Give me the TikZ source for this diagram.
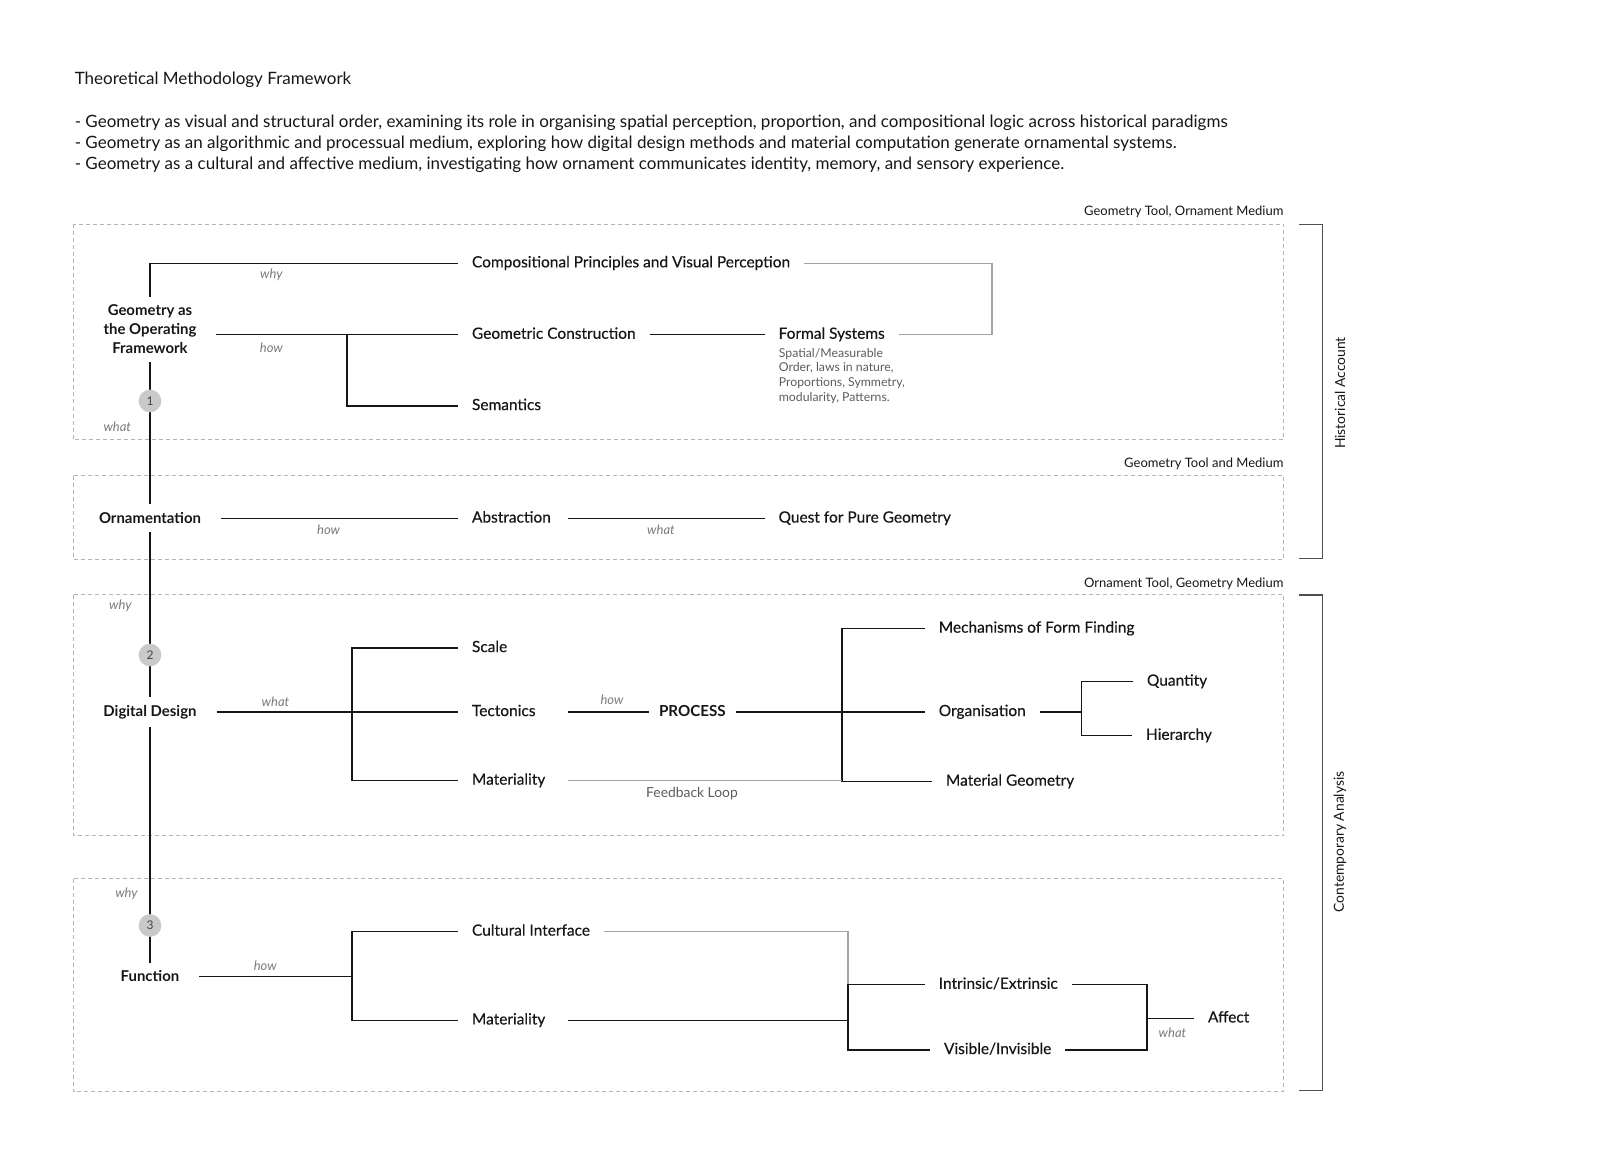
\documentclass[tikz,border=0pt]{standalone}
\usepackage{fontspec}
\setmainfont{Lato}
\newfontfamily\labelfont[FakeBold=0.35]{Lato}
\definecolor{ink}{HTML}{161616}
\definecolor{muted}{HTML}{7A7A7A}
\definecolor{note}{HTML}{5C5C5C}
\definecolor{loop}{HTML}{A3A3A3}
\definecolor{frame}{HTML}{B4B4B4}
\definecolor{brace}{HTML}{505050}
\definecolor{disc}{HTML}{C9C9C9}
\tikzset{
  stem/.style={inner sep=0pt,outer xsep=15pt,outer ysep=6pt,align=center,text=ink,font=\fontsize{11.2}{14.25}\selectfont\bfseries},
  item/.style={anchor=west,inner sep=0pt,outer xsep=10.5pt,text height=1.55ex,text depth=.35ex,text=ink,font=\fontsize{11.6}{13}\selectfont\labelfont},
  shortitem/.style={item,text width=61.5pt,align=left},
  keyitem/.style={item,outer xsep=7.5pt,font=\fontsize{11.4}{13}\selectfont\bfseries},
  cue/.style={inner sep=0pt,text=muted,font=\fontsize{9.75}{12}\selectfont\itshape},
  link/.style={line width=1pt,draw=ink},
  softlink/.style={line width=0.9pt,draw=loop},
  zone/.style={draw=frame,line width=0.75pt,dash pattern=on 3pt off 2.25pt},
  bracket/.style={draw=brace,line width=1pt},
  disc/.style={circle,fill=disc,inner sep=0pt,minimum size=17pt,text=ink!80,font=\fontsize{9}{10}\selectfont},
  zonetag/.style={anchor=east,inner sep=0pt,text=ink,font=\fontsize{9.75}{11}\selectfont},
  sidetag/.style={rotate=90,inner sep=0pt,text=ink,font=\fontsize{10.4}{12}\selectfont},
  bodytext/.style={anchor=west,inner sep=0pt,text=ink,font=\fontsize{12.75}{15}\selectfont}
}
\begin{document}
\begin{tikzpicture}[x=0.75pt,y=-0.75pt]
  \useasboundingbox (0,0) rectangle (1600,1166);
  \def\L{73.5}
  \def\R{1283.7}

  % heading
  \node[bodytext] (title) at (74.5,80) {Theoretical Methodology Framework};
  \node[bodytext] (aim1) at (74.5,122.6) {- Geometry as visual and structural order, examining its role in organising spatial perception, proportion, and compositional logic across historical paradigms};
  \node[bodytext] (aim2) at (74.5,144) {- Geometry as an algorithmic and processual medium, exploring how digital design methods and material computation generate ornamental systems.};
  \node[bodytext] (aim3) at (74.5,164.6) {- Geometry as a cultural and affective medium, investigating how ornament communicates identity, memory, and sensory experience.};

  % zones
  \draw[zone] (\L,224.5) rectangle (\R,439.8);
  \draw[zone] (\L,475.5) rectangle (\R,559.2);
  \draw[zone] (\L,594.9) rectangle (\R,835.7);
  \draw[zone] (\L,878.6) rectangle (\R,1091.8);
  \node[zonetag] (tag1) at (\R,212.2) {Geometry Tool, Ornament Medium};
  \node[zonetag] (tag2) at (\R,464.3) {Geometry Tool and Medium};
  \node[zonetag] (tag3) at (\R,583.7) {Ornament Tool, Geometry Medium};

  % side brackets
  \draw[bracket] (1299,224.5) -- (1322.5,224.5) -- (1322.5,558.2) -- (1299,558.2);
  \draw[bracket] (1299,595) -- (1322.5,595) -- (1322.5,1090.8) -- (1299,1090.8);
  \node[sidetag] (hist) at (1340,393) {Historical Account};
  \node[sidetag] (cont) at (1340,842) {Contemporary Analysis};

  % stems
  \node[stem] (geo) at (150,329.6) {Geometry as\\the Operating\\Framework};
  \node[stem] (orn) at (150,518) {Ornamentation};
  \node[stem] (dd) at (150,712) {Digital Design};
  \node[stem] (fun) at (150,976.5) {Function};

  % historical account
  \node[item] (comp) at (458,263.3) {Compositional Principles and Visual Perception};
  \node[item] (gc) at (458,334.7) {Geometric Construction};
  \node[item] (sem) at (458,406) {Semantics};
  \node[item] (fs) at (764.6,334.7) {Formal Systems};
  \node[anchor=north west,inner sep=0pt,align=left,text=note,font=\fontsize{9.2}{11}\selectfont] (fsnote) at (778.6,348) {Spatial/Measurable\\Order, laws in nature,\\Proportions, Symmetry,\\modularity, Patterns.};
  \node[shortitem] (abs) at (458,518.5) {Abstraction};
  \node[item] (quest) at (764.6,518.5) {Quest for Pure Geometry};

  \coordinate (kGeo) at (347,334.7);
  \coordinate (kLoop) at (992,263.3);
  \draw[link] (geo.north) |- (comp.west);
  \draw[link] (geo.east |- gc.west) -- (gc.west);
  \draw[link] (kGeo) |- (sem.west);
  \draw[link] (gc.east) -- (fs.west);
  \draw[softlink] (fs.east) -| (kLoop) -- (comp.east);
  \draw[link] (orn.east |- abs.west) -- (abs.west);
  \draw[link] (abs.east) -- (quest.west);

  % contemporary analysis
  \node[item] (scale) at (458,648) {Scale};
  \node[shortitem] (tect) at (458,712) {Tectonics};
  \node[shortitem] (mat1) at (458,780.6) {Materiality};
  \node[keyitem] (proc) at (649,712) {PROCESS};
  \node[item] (mech) at (924.8,628.6) {Mechanisms of Form Finding};
  \node[item] (org) at (924.8,712) {Organisation};
  \node[item] (matg) at (932,781.6) {Material Geometry};
  \node[item] (qty) at (1133,681.6) {Quantity};
  \node[item] (hier) at (1132,735.7) {Hierarchy};
  \node[anchor=north,inner sep=0pt,text=note,font=\fontsize{10.4}{12}\selectfont] (fbl) at (692,787) {Feedback Loop};

  \coordinate (kDd) at (352,712);
  \coordinate (kProc) at (842,712);
  \coordinate (kOrg) at (1081.6,712);
  \draw[link] (dd.east) -- (tect.west);
  \draw[link] (scale.west) -| (kDd) |- (mat1.west);
  \draw[link] (tect.east) -- (proc.west);
  \draw[link] (proc.east) -- (org.west);
  \draw[link] (mech.west) -| (kProc) |- (matg.west);
  \draw[softlink] (mat1.east) -- (mat1.east -| kProc);
  \draw[link] (org.east) -- (kOrg);
  \draw[link] (qty.west) -| (kOrg) |- (hier.west);

  \node[item] (ci) at (458,931.6) {Cultural Interface};
  \node[shortitem] (mat2) at (458,1020.4) {Materiality};
  \node[item] (ie) at (924.8,984.7) {Intrinsic/Extrinsic};
  \node[item] (vi) at (930,1050) {Visible/Invisible};
  \node[item] (aff) at (1194,1018.4) {Affect};

  \coordinate (kFun) at (352,976.5);
  \coordinate (kMat) at (848,1020.4);
  \coordinate (kAff) at (1147,1018.4);
  \draw[link] (fun.east) -- (kFun);
  \draw[link] (ci.west) -| (kFun) |- (mat2.west);
  \draw[softlink] (ci.east) -| (kMat |- ie.west);
  \draw[link] (ie.west) -| (kMat) |- (vi.west);
  \draw[link] (mat2.east) -- (kMat);
  \draw[link] (ie.east) -| (kAff) |- (vi.east);
  \draw[link] (kAff) -- (aff.west);

  % spine
  \draw[link] (geo.south) -- (orn.north);
  \draw[link] (orn.south) -- (dd.north);
  \draw[link] (dd.south) -- (fun.north);
  \node[disc] (d1) at (150,401) {1};
  \node[disc] (d2) at (150,655) {2};
  \node[disc] (d3) at (150,925.5) {3};

  % cues
  \node[cue] (cWhy1) at (271.4,274.5) {why};
  \node[cue] (cHow1) at (271.4,348) {how};
  \node[cue] (cWhat1) at (117.3,426.5) {what};
  \node[cue] (cHow2) at (328.6,529.6) {how};
  \node[cue] (cWhat2) at (661,529.6) {what};
  \node[cue] (cWhy2) at (120.4,606) {why};
  \node[cue] (cWhat3) at (275.5,702) {what};
  \node[cue] (cHow3) at (612,700) {how};
  \node[cue] (cWhy3) at (126.5,894) {why};
  \node[cue] (cHow4) at (265.3,965.3) {how};
  \node[cue] (cWhat4) at (1172.5,1032.6) {what};
\end{tikzpicture}
\end{document}
